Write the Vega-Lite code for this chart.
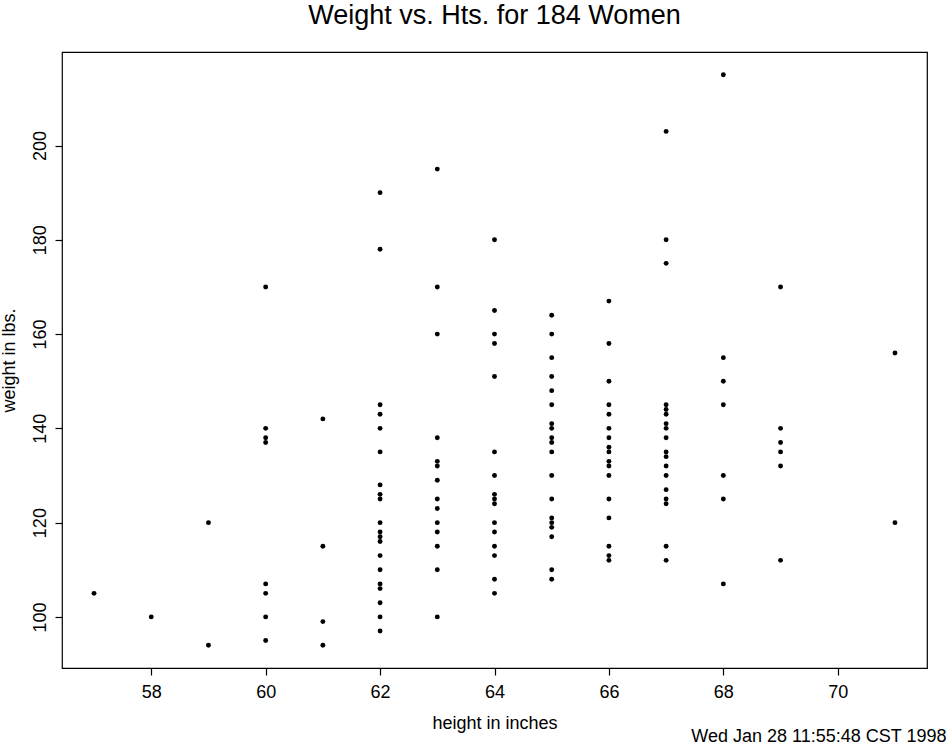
{
  "$schema": "https://vega.github.io/schema/vega-lite/v6.json",
  "width": 865,
  "height": 616,
  "autosize": {"type": "none"},
  "padding": {"left": 62, "top": 52, "right": 22, "bottom": 78},
  "background": "white",
  "title": {"text": "Weight vs. Hts. for 184 Women", "font": "Liberation Sans", "fontSize": 27, "fontWeight": "normal", "color": "black", "anchor": "middle", "offset": 22},
  "config": {
    "view": {"stroke": "black", "strokeWidth": 1.2},
    "axis": {"grid": false, "domain": false, "tickColor": "black", "tickSize": 7, "tickWidth": 1.2, "labelFont": "Liberation Sans", "labelFontSize": 18, "labelColor": "black", "titleFont": "Liberation Sans", "titleFontSize": 18, "titleFontWeight": "normal", "titleColor": "black"}
  },
  "data": {"values": [
    {"h":57,"w":105},{"h":58,"w":100},{"h":59,"w":120},{"h":59,"w":94},
    {"h":60,"w":170},{"h":60,"w":140},{"h":60,"w":138},{"h":60,"w":137},{"h":60,"w":107},{"h":60,"w":105},{"h":60,"w":100},{"h":60,"w":95},
    {"h":61,"w":142},{"h":61,"w":115},{"h":61,"w":99},{"h":61,"w":94},
    {"h":62,"w":190},{"h":62,"w":178},{"h":62,"w":145},{"h":62,"w":143},{"h":62,"w":140},{"h":62,"w":135},{"h":62,"w":128},{"h":62,"w":126},{"h":62,"w":125},{"h":62,"w":120},{"h":62,"w":118},{"h":62,"w":117},{"h":62,"w":116},{"h":62,"w":113},{"h":62,"w":110},{"h":62,"w":107},{"h":62,"w":106},{"h":62,"w":103},{"h":62,"w":100},{"h":62,"w":97},
    {"h":63,"w":195},{"h":63,"w":170},{"h":63,"w":160},{"h":63,"w":138},{"h":63,"w":133},{"h":63,"w":132},{"h":63,"w":129},{"h":63,"w":125},{"h":63,"w":123},{"h":63,"w":120},{"h":63,"w":118},{"h":63,"w":115},{"h":63,"w":110},{"h":63,"w":100},
    {"h":64,"w":180},{"h":64,"w":165},{"h":64,"w":160},{"h":64,"w":158},{"h":64,"w":151},{"h":64,"w":135},{"h":64,"w":130},{"h":64,"w":126},{"h":64,"w":125},{"h":64,"w":124},{"h":64,"w":120},{"h":64,"w":118},{"h":64,"w":115},{"h":64,"w":113},{"h":64,"w":108},{"h":64,"w":105},
    {"h":65,"w":164},{"h":65,"w":160},{"h":65,"w":155},{"h":65,"w":151},{"h":65,"w":148},{"h":65,"w":145},{"h":65,"w":141},{"h":65,"w":140},{"h":65,"w":138},{"h":65,"w":137},{"h":65,"w":135},{"h":65,"w":130},{"h":65,"w":125},{"h":65,"w":121},{"h":65,"w":120},{"h":65,"w":119},{"h":65,"w":117},{"h":65,"w":110},{"h":65,"w":108},
    {"h":66,"w":167},{"h":66,"w":158},{"h":66,"w":150},{"h":66,"w":145},{"h":66,"w":143},{"h":66,"w":140},{"h":66,"w":138},{"h":66,"w":136},{"h":66,"w":135},{"h":66,"w":133},{"h":66,"w":132},{"h":66,"w":130},{"h":66,"w":125},{"h":66,"w":121},{"h":66,"w":115},{"h":66,"w":113},{"h":66,"w":112},
    {"h":67,"w":203},{"h":67,"w":180},{"h":67,"w":175},{"h":67,"w":145},{"h":67,"w":144},{"h":67,"w":143},{"h":67,"w":141},{"h":67,"w":140},{"h":67,"w":138},{"h":67,"w":135},{"h":67,"w":134},{"h":67,"w":132},{"h":67,"w":130},{"h":67,"w":127},{"h":67,"w":125},{"h":67,"w":124},{"h":67,"w":115},{"h":67,"w":112},
    {"h":68,"w":215},{"h":68,"w":155},{"h":68,"w":150},{"h":68,"w":145},{"h":68,"w":130},{"h":68,"w":125},{"h":68,"w":107},
    {"h":69,"w":170},{"h":69,"w":140},{"h":69,"w":137},{"h":69,"w":135},{"h":69,"w":132},{"h":69,"w":112},
    {"h":71,"w":156},{"h":71,"w":120}
  ]},
  "layer": [
    {
      "mark": {"type": "circle", "size": 24, "color": "black", "opacity": 1},
      "encoding": {
        "x": {"field": "h", "type": "quantitative", "scale": {"domain": [56.44, 71.56], "nice": false, "zero": false},
              "axis": {"title": "height in inches", "values": [58,60,62,64,66,68,70], "labelPadding": 8, "titlePadding": 13}},
        "y": {"field": "w", "type": "quantitative", "scale": {"domain": [89.16, 219.84], "nice": false, "zero": false},
              "axis": {"title": "weight in lbs.", "values": [100,120,140,160,180,200], "labelAngle": -90, "labelAlign": "center", "labelBaseline": "bottom", "labelPadding": 6, "titlePadding": 13}}
      }
    },
    {
      "mark": {"type": "circle", "size": 0, "opacity": 0},
      "encoding": {
        "x": {"field": "h", "type": "quantitative", "scale": {"domain": [56.44, 71.56], "nice": false, "zero": false},
              "axis": {"orient": "bottom", "title": "Wed Jan 28 11:55:48 CST 1998", "labels": false, "ticks": false, "domain": false, "titleAnchor": "end", "titleAlign": "right", "titleX": 884, "titleY": 68, "titleBaseline": "middle"}}
      }
    }
  ],
  "resolve": {"axis": {"x": "independent"}}
}
